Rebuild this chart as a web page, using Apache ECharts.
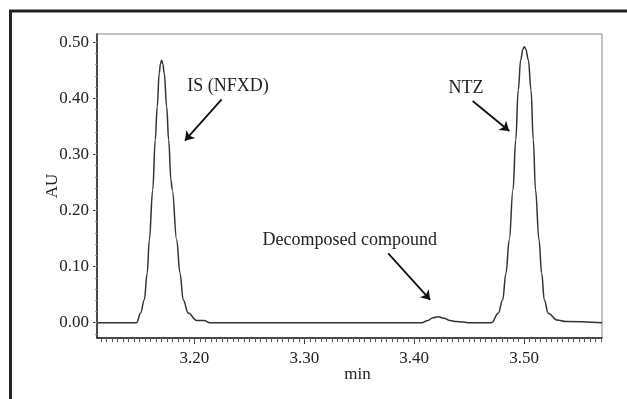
<!DOCTYPE html>
<html>
<head>
    <meta charset="UTF-8">
    <title>Chromatogram</title>
    <script src="https://cdn.jsdelivr.net/npm/echarts@6/dist/echarts.min.js"></script>
</head>
<body style="margin:0;background:#fff;">
<div id="main" style="width: 627px;height:399px;"></div>
<script type="text/javascript">
    // retention time (min)
    var rt = [3.1114, 3.1475, 3.1511, 3.1544, 3.1571, 3.1590, 3.1621, 3.1644, 3.1662, 3.1680,
        3.1692, 3.1702, 3.1712, 3.1726, 3.1748, 3.1766, 3.1787, 3.1799, 3.1839, 3.1869,
        3.1899, 3.1944, 3.2021, 3.2087, 3.2142, 3.4068, 3.4125, 3.4171, 3.4219, 3.4271,
        3.4326, 3.4381, 3.4445, 3.4508, 3.4705, 3.4765, 3.4805, 3.4835, 3.4865, 3.4899,
        3.4924, 3.4947, 3.4969, 3.4990, 3.5002, 3.5015, 3.5039, 3.5063, 3.5084, 3.5104,
        3.5136, 3.5160, 3.5184, 3.5220, 3.5297, 3.5381, 3.5709];
    // absorbance (AU)
    var au = [0, 0, 0.0173, 0.0405, 0.0886, 0.1474, 0.2365, 0.3257, 0.385, 0.4446,
        0.462, 0.468, 0.462, 0.4446, 0.385, 0.3257, 0.2544, 0.2365, 0.1474, 0.0886,
        0.0405, 0.0173, 0.004, 0.004, 0, 0, 0.004, 0.009, 0.0107, 0.008,
        0.004, 0.002, 0.001, 0, 0, 0.0168, 0.0405, 0.0881, 0.1474, 0.2365,
        0.3257, 0.4148, 0.4683, 0.488, 0.492, 0.488, 0.4683, 0.4148, 0.3257, 0.2365,
        0.1474, 0.0881, 0.0405, 0.0168, 0.005, 0.002, 0];

    var xLabels = [3.2, 3.3, 3.4, 3.5];
    var yLabels = [0, 0.1, 0.2, 0.3, 0.4, 0.5];

    // annotations: text, text position, arrow start, arrow end
    var noteText = ['IS (NFXD)', 'NTZ', 'Decomposed compound'];
    var notePos = [[3.2306, 0.4207], [3.4471, 0.4184], [3.3413, 0.1474]];
    var arrowFrom = [[3.2248, 0.3982], [3.4532, 0.3952], [3.3764, 0.1237]];
    var arrowTo = [[3.1914, 0.3244], [3.4865, 0.3417], [3.4146, 0.0405]];

    var xMinor = [];
    for (var i = 623; i <= 714; i++) xMinor.push(i * 0.005);
    var yMinor = [];
    for (var j = -1; j <= 25; j++) yMinor.push(j * 0.02);

    var font = 'Liberation Serif';
    var myChart = echarts.init(document.getElementById('main'));

    var lineData = rt.map(function (t, k) { return [t, au[k]]; });

    var option = {
        animation: false,
        graphic: [{
            type: 'rect',
            shape: {x: 10.5, y: 11, width: 1000, height: 1000},
            style: {fill: 'none', stroke: '#222', lineWidth: 3}
        }],
        grid: {
            left: 97, top: 34, right: 25, bottom: 61,
            show: true, borderColor: '#888', borderWidth: 1
        },
        xAxis: [{
            type: 'value', min: 3.1114, max: 3.5709,
            name: 'min', nameLocation: 'middle', nameGap: 28, nameMoveOverlap: false,
            nameTextStyle: {fontFamily: font, fontSize: 17, color: '#222', padding: [0, 0, 0, 16]},
            axisLine: {onZero: false, lineStyle: {color: '#222', width: 1.5}},
            axisTick: {customValues: xLabels, length: 6, lineStyle: {color: '#333'}},
            axisLabel: {
                customValues: xLabels, margin: 12,
                fontFamily: font, fontSize: 17, color: '#222',
                formatter: function (v) { return v.toFixed(2); }
            },
            splitLine: {show: false}
        }, {
            type: 'value', min: 3.1114, max: 3.5709, position: 'bottom',
            axisLine: {show: false, onZero: false},
            axisTick: {customValues: xMinor, length: 4, lineStyle: {color: '#555'}},
            axisLabel: {show: false},
            splitLine: {show: false}
        }],
        yAxis: [{
            type: 'value', min: -0.0273, max: 0.5146,
            name: 'AU', nameLocation: 'middle', nameGap: 36, nameRotate: 90, nameMoveOverlap: false,
            nameTextStyle: {fontFamily: font, fontSize: 17, color: '#222'},
            axisLine: {show: true, onZero: false, lineStyle: {color: '#222', width: 1.5}},
            axisTick: {show: true, customValues: yLabels, length: 4, lineStyle: {color: '#333'}},
            axisLabel: {
                customValues: yLabels, margin: 8,
                fontFamily: font, fontSize: 17, color: '#222',
                formatter: function (v) { return v.toFixed(2); }
            },
            splitLine: {show: false}
        }, {
            type: 'value', min: -0.0273, max: 0.5146, position: 'left',
            axisLine: {show: false, onZero: false},
            axisTick: {show: true, customValues: yMinor, length: 2, lineStyle: {color: '#999'}},
            axisLabel: {show: false},
            splitLine: {show: false}
        }],
        series: [{
            type: 'line',
            data: lineData,
            showSymbol: false,
            smooth: 0.4,
            smoothMonotone: 'x',
            lineStyle: {color: '#333', width: 1.5},
            markPoint: {
                symbol: 'circle', symbolSize: 0,
                label: {show: true, position: 'inside', fontFamily: font, fontSize: 18, color: '#222'},
                data: noteText.map(function (s, k) {
                    return {coord: notePos[k], label: {formatter: s}};
                })
            },
            markLine: {
                silent: true,
                symbol: ['none', 'arrow'],
                symbolSize: 9,
                label: {show: false},
                lineStyle: {color: '#111', width: 1.8, type: 'solid'},
                data: arrowFrom.map(function (p, k) {
                    return [{coord: p}, {coord: arrowTo[k]}];
                })
            }
        }]
    };
    myChart.setOption(option);
</script>
</body>
</html>
